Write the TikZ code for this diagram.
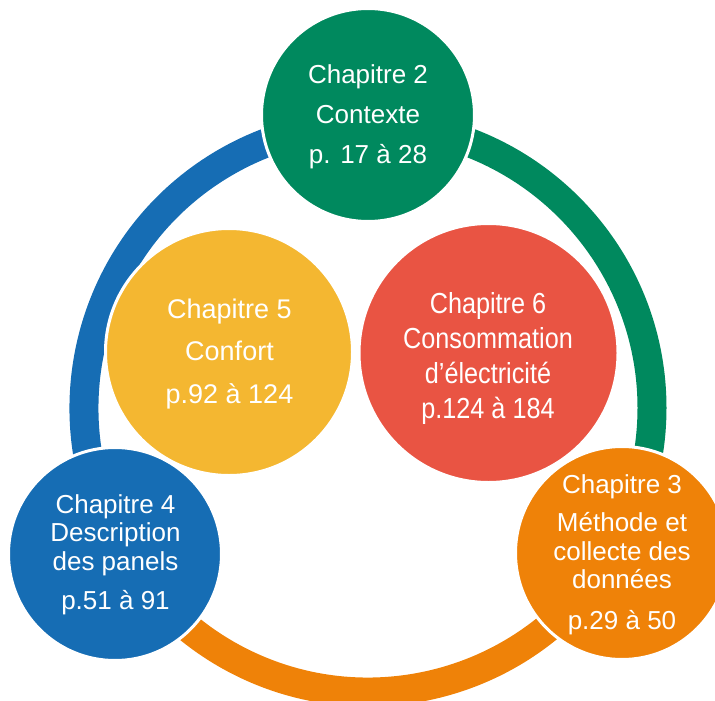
\documentclass[tikz,border=0pt]{standalone}
\usepackage{fontspec}
\setmainfont{Liberation Sans}
\newfontfamily\condfont[FakeStretch=0.87]{Liberation Sans}
\definecolor{cgreen}{HTML}{00895E}
\definecolor{cblue}{HTML}{166DB4}
\definecolor{corange}{HTML}{EF8208}
\definecolor{cyellow}{HTML}{F4B731}
\definecolor{cred}{HTML}{E95443}
\begin{document}
\begin{tikzpicture}[x=1pt,y=1pt,
  ringarc/.style={line width=29pt},
  bubble/.style={circle, draw=white, line width=3pt, inner sep=0pt},
  txt/.style={text=white, align=center, inner sep=0pt}]
\useasboundingbox (0,0) rectangle (715,-701);
\clip (0,0) rectangle (715,-701);
\coordinate (ctr) at (368,-408);
\path (ctr) ++(90:284) coordinate (rT);
\path (ctr) ++(-30:284) coordinate (rR);
\path (ctr) ++(210:284) coordinate (rL);
\draw[ringarc, cgreen] (rT) arc[start angle=90, end angle=-30, radius=284];
\draw[ringarc, corange] (rR) arc[start angle=-30, end angle=-150, radius=284];
\draw[ringarc, cblue] (rL) arc[start angle=210, end angle=90, radius=284];
% inner circles
\node[bubble, fill=cyellow, minimum size=247pt] (c5) at (229,-352) {};
\node[bubble, fill=cred, minimum size=259pt] (c6) at (488.5,-353) {};
% outer circles
\node[bubble, fill=cgreen, minimum size=213pt] (c2) at (368,-115) {};
\node[bubble, fill=corange, minimum size=213pt] (c3) at (622,-553) {};
\node[bubble, fill=cblue, minimum size=213pt] (c4) at (115,-554) {};
% texts
\node[txt, font=\fontsize{26}{40}\selectfont] (t2) at (368,-116.5)
  {Chapitre 2\\Contexte\\p. 17 à 28};
\node[txt, font=\fontsize{26}{28.5}\selectfont] (t3) at (622,-554.7)
  {Chapitre 3\\[10pt]Méthode et\\collecte des\\données\\[12pt]p.29 à 50};
\node[txt, font=\fontsize{26}{28.5}\selectfont] (t4) at (115.5,-554.8)
  {Chapitre 4\\Description\\des panels\\[11pt]p.51 à 91};
\node[txt, font=\fontsize{27}{42.5}\selectfont] (t5) at (229.5,-353.6)
  {Chapitre 5\\Confort\\p.92 à 124};
\node[txt, font=\condfont\fontsize{29}{35}\selectfont] (t6) at (488,-358)
  {Chapitre 6\\Consommation\\d’électricité\\p.124 à 184};
\end{tikzpicture}
\end{document}
